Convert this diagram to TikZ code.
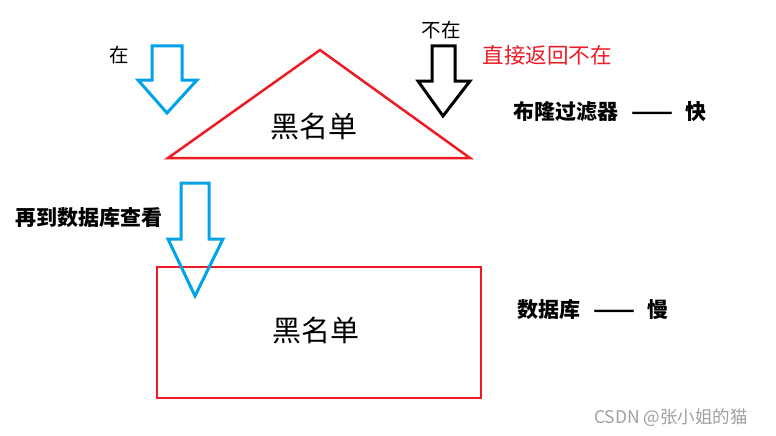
\documentclass[tikz,border=0pt]{standalone}
\usepackage{fontspec}
\usepackage{graphicx}
\newfontfamily\cjk{Noto Sans CJK SC}
\definecolor{pblue}{HTML}{00A2E8}
\definecolor{pred}{HTML}{ED1C24}
\definecolor{wmgray}{HTML}{A0A0A0}
\newcommand{\longdash}{\hspace{13pt}\resizebox{42pt}{\height}{——}\hspace{12pt}}
\begin{document}
\begin{tikzpicture}[x=1pt,y=-1pt,
  bluearrow/.style={draw=pblue,line width=3pt,line join=miter},
  blackarrow/.style={draw=black,line width=3pt,line join=miter},
  redshape/.style={draw=pred,line width=2.5pt,line join=miter},
  lbl/.style={font=\cjk\fontsize{19.5}{22}\selectfont,inner sep=0pt},
  bold/.style={font=\cjk\bfseries\fontsize{21}{24}\selectfont,inner sep=0pt},
  big/.style={font=\cjk\fontsize{29}{33}\selectfont,inner sep=0pt}]
\useasboundingbox[fill=white] (0,0) rectangle (776,436);
% triangle (Bloom filter)
\draw[redshape] (168,158) -- (320,50) -- (470,158) -- cycle;
% rectangle (database)
\draw[redshape] (157,267) rectangle (481,398);
% arrows
\draw[bluearrow] (152,46) -- (182,46) -- (182,80) -- (197,80) -- (167,113) -- (138,80) -- (152,80) -- cycle;
\draw[blackarrow] (432,46) -- (455,46) -- (455,81) -- (470,81) -- (443,116) -- (418,81) -- (432,81) -- cycle;
\draw[bluearrow] (181,183) -- (209,183) -- (209,239) -- (223,239) -- (195,296) -- (168,239) -- (181,239) -- cycle;
% texts
\node[lbl] (zai) at (119,55) {在};
\node[lbl] (buzai) at (441,30) {不在};
\node[lbl,text=pred,font=\cjk\fontsize{21.5}{24}\selectfont] (ret) at (547,55) {直接返回不在};
\node[big] (bl1) at (314,126) {黑名单};
\node[big] (bl2) at (316,330) {黑名单};
\node[bold] (bloom) at (610,112) {布隆过滤器\longdash 快};
\node[bold] (again) at (89,218) {再到数据库查看};
\node[bold] (db) at (593,310) {数据库\longdash 慢};
\node[inner sep=0pt,text=wmgray,font=\cjk\fontsize{17.5}{20}\selectfont] (wm) at (671,418) {CSDN @张小姐的猫};
\end{tikzpicture}
\end{document}
